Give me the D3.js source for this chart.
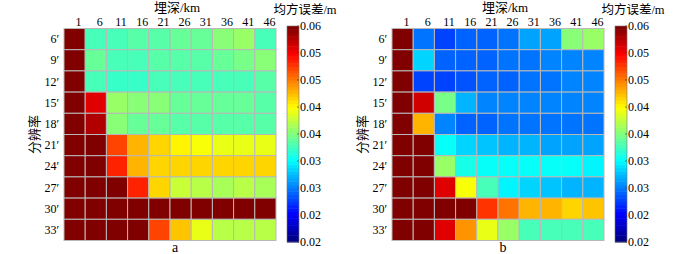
<!DOCTYPE html>
<html>
<head>
<meta charset="utf-8">
<script src="https://cdn.jsdelivr.net/npm/d3@7"></script>
<style>
    body { margin: 0; background: #fff; }
    text { font-family: "Liberation Serif", "Noto Sans CJK SC", serif; fill: #000; }
</style>
</head>
<body>
<div id="chart"></div>
<script>
// column labels (burial depth, km) and row labels (resolution)
const depths = ['1', '6', '11', '16', '21', '26', '31', '36', '41', '46']
const resolutions = ['6′', '9′', '12′', '15′', '18′', '21′', '24′', '27′', '30′', '33′']

// colorbar tick values and labels
const cbTicks = [0.06, 0.055, 0.05, 0.045, 0.04, 0.035, 0.03, 0.025, 0.02]
const cbTickLabels = ['0.06', '0.05', '0.05', '0.04', '0.04', '0.03', '0.03', '0.02', '0.02']

// mean square error (m), panel a
const errorsA = [
    [0.06, 0.0378, 0.0381, 0.0386, 0.0385, 0.0393, 0.039, 0.040, 0.041, 0.0377],
    [0.06, 0.039, 0.0381, 0.038, 0.0385, 0.0385, 0.0384, 0.0388, 0.0395, 0.0405],
    [0.06, 0.0379, 0.0373, 0.0371, 0.0375, 0.0375, 0.0375, 0.0377, 0.038, 0.0382],
    [0.06, 0.0562, 0.0408, 0.040, 0.040, 0.039, 0.039, 0.0388, 0.0388, 0.0383],
    [0.06, 0.0581, 0.040, 0.039, 0.039, 0.0386, 0.0386, 0.0386, 0.0386, 0.0386],
    [0.06, 0.06, 0.0519, 0.0475, 0.0465, 0.045, 0.0444, 0.0443, 0.0442, 0.0443],
    [0.06, 0.06, 0.0534, 0.0475, 0.0466, 0.0468, 0.0466, 0.0466, 0.0466, 0.0466],
    [0.06, 0.06, 0.06, 0.0536, 0.0463, 0.0428, 0.0419, 0.0416, 0.0419, 0.0416],
    [0.06, 0.06, 0.06, 0.06, 0.06, 0.06, 0.06, 0.06, 0.06, 0.06],
    [0.06, 0.06, 0.06, 0.06, 0.052, 0.047, 0.0442, 0.042, 0.0419, 0.042]
]

// mean square error (m), panel b
const errorsB = [
    [0.06, 0.0294, 0.028, 0.0291, 0.0289, 0.0297, 0.0313, 0.0313, 0.040, 0.041],
    [0.06, 0.0332, 0.029, 0.029, 0.0289, 0.0294, 0.0297, 0.030, 0.0303, 0.0303],
    [0.06, 0.0275, 0.0278, 0.0284, 0.0288, 0.0288, 0.0294, 0.0297, 0.0303, 0.0303],
    [0.06, 0.0568, 0.0394, 0.0319, 0.0306, 0.0303, 0.030, 0.030, 0.0303, 0.0303],
    [0.06, 0.0475, 0.030, 0.029, 0.0289, 0.0294, 0.0294, 0.0294, 0.0297, 0.0294],
    [0.06, 0.06, 0.0356, 0.0335, 0.0325, 0.0322, 0.0319, 0.0316, 0.0316, 0.0313],
    [0.06, 0.06, 0.041, 0.0358, 0.035, 0.0356, 0.0356, 0.0356, 0.035, 0.0348],
    [0.06, 0.06, 0.0562, 0.0444, 0.038, 0.0348, 0.0333, 0.0325, 0.0322, 0.0319],
    [0.06, 0.06, 0.06, 0.0595, 0.0525, 0.050, 0.0481, 0.0479, 0.0468, 0.047],
    [0.06, 0.06, 0.0562, 0.0488, 0.0442, 0.041, 0.038, 0.0375, 0.0375, 0.0378]
]

// matlab style jet colormap with 64 levels
const jet = t => {
    t = Math.max(0, Math.min(1, t))
    t = Math.min(63, Math.floor(t * 64)) / 63
    const ch = x => Math.max(0, Math.min(1, x))
    const r = ch(Math.min(4 * t - 1.5, -4 * t + 4.5))
    const g = ch(Math.min(4 * t - 0.5, -4 * t + 3.5))
    const b = ch(Math.min(4 * t + 0.5, -4 * t + 2.5))
    return d3.rgb(r * 255, g * 255, b * 255).toString()
}

const valueScale = d3.scaleLinear()
    .domain([0.02, 0.06])
    .range([0, 1])
    .clamp(true)

const colorOf = v => jet(valueScale(v))

const svg = d3.select('#chart')
    .append('svg')
    .attr('width', 700)
    .attr('height', 254)

// draws one heatmap panel with its colorbar
const plotPanel = (data, left, letter, cbLeft) => {

    const top = 28.5
    const size = 212

    const xScale = d3.scaleBand()
        .domain(depths)
        .range([left, left + size])

    const yScale = d3.scaleBand()
        .domain(resolutions)
        .range([top, top + size])

    const g = svg.append('g')

    // heatmap cells
    const cells = []
    data.forEach((row, i) => {
        row.forEach((v, j) => {
            cells.push({ row: resolutions[i], col: depths[j], value: v })
        })
    })

    g.selectAll('.cell')
        .data(cells)
        .enter()
        .append('rect')
            .attr('class', 'cell')
            .attr('x', d => xScale(d.col))
            .attr('y', d => yScale(d.row))
            .attr('width', xScale.bandwidth())
            .attr('height', yScale.bandwidth())
            .attr('fill', d => colorOf(d.value))
            .attr('stroke', '#b8b8b8')
            .attr('stroke-width', 1)

    // column labels on top
    g.selectAll('.colLabel')
        .data(depths)
        .enter()
        .append('text')
            .attr('x', d => xScale(d) + xScale.bandwidth() / 2 + 4)
            .attr('y', top - 3)
            .attr('text-anchor', 'middle')
            .attr('font-size', '12px')
            .text(d => d)

    // row labels on the left
    g.selectAll('.rowLabel')
        .data(resolutions)
        .enter()
        .append('text')
            .attr('x', left - 5)
            .attr('y', d => yScale(d) + yScale.bandwidth() / 2 + 4)
            .attr('text-anchor', 'end')
            .attr('font-size', '12px')
            .text(d => d)

    // axis titles
    g.append('text')
        .attr('x', left + size / 2 + 7)
        .attr('y', 12)
        .attr('text-anchor', 'middle')
        .attr('font-size', '13px')
        .text('埋深/km')

    g.append('text')
        .attr('transform', `translate(${left - 25}, ${top + size / 2}) rotate(-90)`)
        .attr('text-anchor', 'middle')
        .attr('font-size', '13px')
        .text('分辨率')

    g.append('text')
        .attr('x', left + size / 2 + 5)
        .attr('y', 252)
        .attr('text-anchor', 'middle')
        .attr('font-size', '14px')
        .text(letter)

    // colorbar
    const cbTop = 26
    const cbBottom = 242
    const cbWidth = 12

    const cbScale = d3.scaleLinear()
        .domain([0.02, 0.06])
        .range([cbBottom, cbTop])

    const levels = d3.range(64).map(i => 0.02 + (i + 0.5) * 0.04 / 64)
    const step = (cbBottom - cbTop) / 64

    g.selectAll('.level')
        .data(levels)
        .enter()
        .append('rect')
            .attr('x', cbLeft)
            .attr('y', d => cbScale(d) - step / 2)
            .attr('width', cbWidth)
            .attr('height', step + 0.5)
            .attr('fill', d => colorOf(d))

    g.append('rect')
        .attr('x', cbLeft)
        .attr('y', cbTop)
        .attr('width', cbWidth)
        .attr('height', cbBottom - cbTop)
        .attr('fill', 'none')
        .attr('stroke', '#777')
        .attr('stroke-width', 0.6)

    // colorbar ticks and labels
    g.selectAll('.cbTick')
        .data(cbTicks)
        .enter()
        .append('line')
            .attr('x1', cbLeft + cbWidth - 2)
            .attr('x2', cbLeft + cbWidth)
            .attr('y1', d => cbScale(d))
            .attr('y2', d => cbScale(d))
            .attr('stroke', '#333')
            .attr('stroke-width', 0.6)

    g.selectAll('.cbLabel')
        .data(cbTicks)
        .enter()
        .append('text')
            .attr('x', cbLeft + cbWidth + 1)
            .attr('y', d => cbScale(d) + 4)
            .attr('font-size', '12px')
            .text((d, i) => cbTickLabels[i])

    g.append('text')
        .attr('x', cbLeft + cbWidth / 2 + 12)
        .attr('y', 14)
        .attr('text-anchor', 'middle')
        .attr('font-size', '12.5px')
        .text('均方误差/m')
}

plotPanel(errorsA, 64, 'a', 287)
plotPanel(errorsB, 392, 'b', 615)
</script>
</body>
</html>
